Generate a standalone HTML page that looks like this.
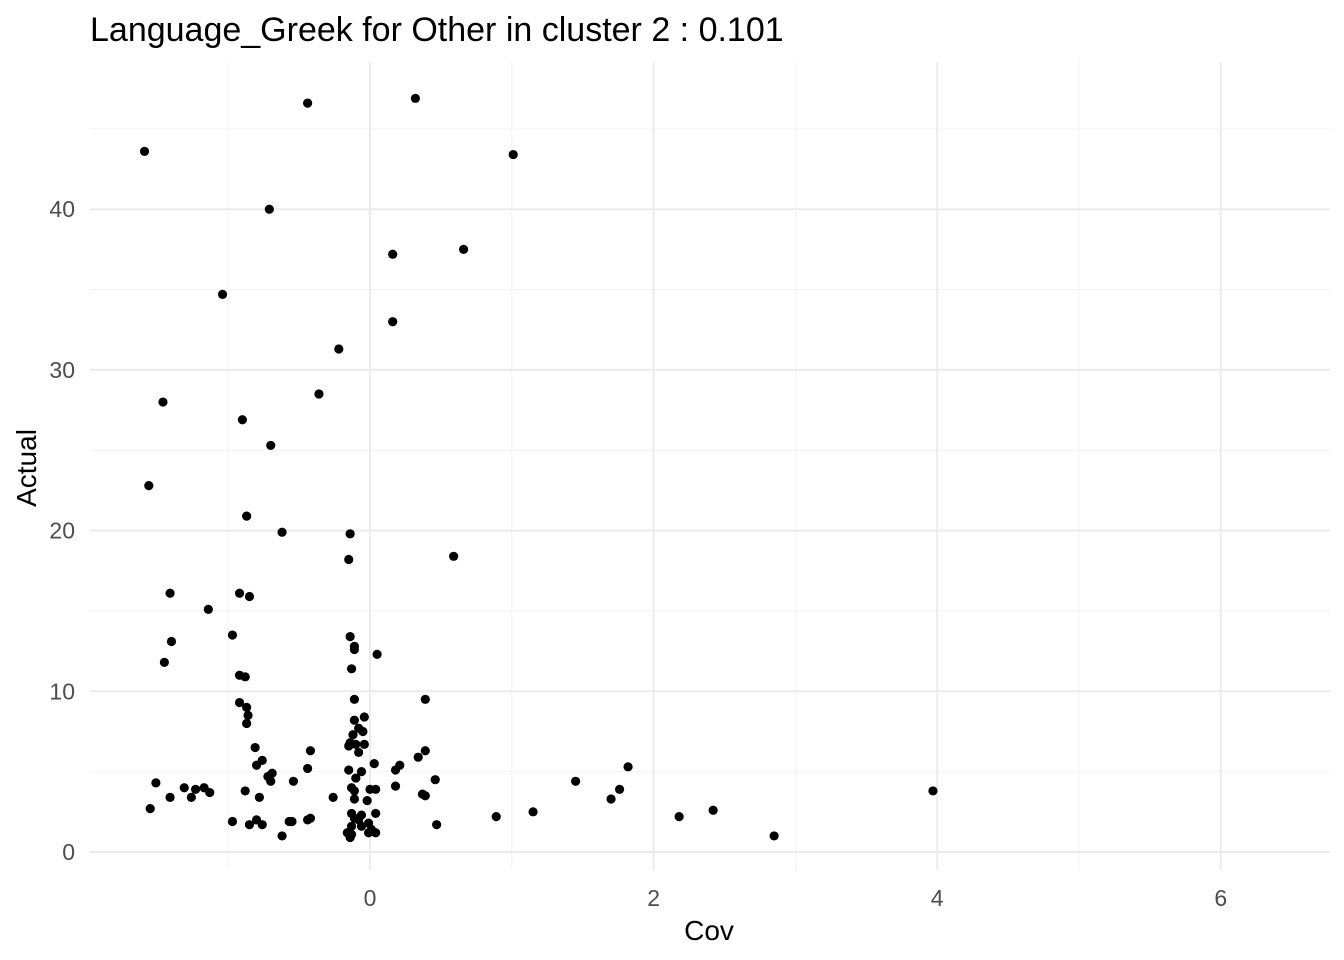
<!DOCTYPE html>
<html><head><meta charset="utf-8">
<style>
html,body{margin:0;padding:0;background:#fff;}
svg{display:block;font-family:"Liberation Sans",sans-serif;}
</style></head>
<body>
<svg id="chart" width="1344" height="960">
<text x="90" y="41" font-size="34" fill="#000">Language_Greek for Other in cluster 2 : 0.101</text>
<g id="grid"></g>
<g id="ticks"></g>
<g id="points"></g>
<text x="709" y="940" font-size="28" text-anchor="middle" fill="#000">Cov</text>
<text x="0" y="0" font-size="28" text-anchor="middle" fill="#000" transform="translate(36,468) rotate(-90)">Actual</text>
</svg>
<script>
const xTicks=[0,2,4,6];
const yTicks=[0,10,20,30,40];
const xMinor=[-1,1,3,5];
const yMinor=[5,15,25,35,45];
const xs=[-1.59,-0.44,0.32,1.01,-0.71,0.16,0.66,-1.04,0.16,-0.22,-0.36,-1.46,-0.90,-0.70,-1.56,-0.87,-0.62,-0.14,-0.15,0.59,-1.41,-0.92,-0.85,-1.14,-0.97,-1.40,-0.14,-0.11,-0.11,0.05,-1.45,-0.92,-0.88,-0.13,-0.92,-0.87,-0.11,0.39,-0.86,-0.87,-0.11,-0.04,-0.08,-0.12,-0.05,-0.14,-0.10,-0.04,-0.15,-0.81,-0.42,0.39,-0.08,-0.76,-0.80,0.34,0.03,0.21,0.18,-0.15,-0.44,1.82,-0.06,-0.69,-0.10,-0.72,-0.70,-0.54,0.46,1.45,-1.51,-0.13,0.18,-1.31,-1.23,-1.17,-1.13,-0.88,0.00,0.04,-0.11,1.76,3.97,0.37,0.39,-0.78,-1.41,-1.26,-0.26,-0.11,-0.02,1.70,-1.55,1.15,2.42,-0.13,0.04,-0.06,-0.42,-0.44,-0.11,0.89,2.18,-0.97,-0.80,-0.08,-0.57,-0.55,-0.85,-0.76,-0.01,-0.13,0.47,-0.06,0.01,-0.01,0.04,-0.16,-0.13,-0.14,-0.62,2.85];
const ys=[43.6,46.6,46.9,43.4,40.0,37.2,37.5,34.7,33.0,31.3,28.5,28.0,26.9,25.3,22.8,20.9,19.9,19.8,18.2,18.4,16.1,16.1,15.9,15.1,13.5,13.1,13.4,12.8,12.6,12.3,11.8,11.0,10.9,11.4,9.3,9.0,9.5,9.5,8.5,8.0,8.2,8.4,7.7,7.3,7.5,6.8,6.7,6.7,6.6,6.5,6.3,6.3,6.2,5.7,5.4,5.9,5.5,5.4,5.1,5.1,5.2,5.3,5.0,4.9,4.6,4.7,4.4,4.4,4.5,4.4,4.3,4.0,4.1,4.0,3.9,4.0,3.7,3.8,3.9,3.9,3.8,3.9,3.8,3.6,3.5,3.4,3.4,3.4,3.4,3.3,3.2,3.3,2.7,2.5,2.6,2.4,2.4,2.3,2.1,2.0,2.1,2.2,2.2,1.9,2.0,2.0,1.9,1.9,1.7,1.7,1.8,1.6,1.7,1.6,1.4,1.2,1.2,1.2,1.1,0.9,1.0,1.0];
const NS="http://www.w3.org/2000/svg";
const X=v=>370+v*141.8;
const Y=v=>852-v*16.07;
const L=90,R=1330,T=62,B=870;
function mk(tag,attrs,parent){const e=document.createElementNS(NS,tag);for(const k in attrs)e.setAttribute(k,attrs[k]);parent.appendChild(e);return e;}
const grid=document.getElementById('grid');
const ticks=document.getElementById('ticks');
const pts=document.getElementById('points');
xMinor.forEach(v=>{const e=mk('line',{x1:X(v),x2:X(v),y1:T,y2:B,stroke:'#f2f2f2','stroke-width':1},grid);

});
yMinor.forEach(v=>{const e=mk('line',{x1:L,x2:R,y1:Y(v),y2:Y(v),stroke:'#f2f2f2','stroke-width':1},grid);

});
xTicks.forEach(v=>{const e=mk('line',{x1:X(v),x2:X(v),y1:T,y2:B,stroke:'#ebebeb','stroke-width':2},grid);


const t=mk('text',{x:X(v),y:906,'font-size':23,'text-anchor':'middle',fill:'#4d4d4d'},ticks);t.textContent=v;

});
yTicks.forEach(v=>{const e=mk('line',{x1:L,x2:R,y1:Y(v),y2:Y(v),stroke:'#ebebeb','stroke-width':2},grid);


const t=mk('text',{x:75,y:Y(v)+8,'font-size':23,'text-anchor':'end',fill:'#4d4d4d'},ticks);t.textContent=v;

});
xs.forEach((v,i)=>{const c=mk('circle',{cx:X(v),cy:Y(ys[i]),r:4.6,fill:'#000'},pts);

});
</script>
</body></html>
